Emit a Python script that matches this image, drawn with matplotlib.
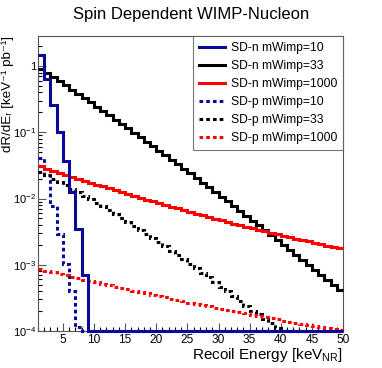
import numpy as np
import matplotlib
matplotlib.use("Agg")
import matplotlib.pyplot as plt
from matplotlib.ticker import FixedLocator, FuncFormatter, LogLocator, NullFormatter

plt.rcParams['font.family'] = ['Liberation Sans', 'DejaVu Sans']
plt.rcParams['mathtext.default'] = 'regular'

# ---- data ----
bin_edges = list(range(1, 51))  # 1 keV bins from 1 to 50 keVnr

sdn_m10 = [1.45, 0.64, 0.26, 0.100, 0.037, 0.0124, 0.0035, 0.00071, 0.00005] + [0.0] * 40

sdn_m33 = [0.912, 0.790, 0.684, 0.592, 0.512, 0.443, 0.382, 0.330, 0.284, 0.245,
           0.211, 0.1814, 0.156, 0.134, 0.115, 0.0986, 0.0845, 0.0724, 0.0619, 0.0530,
           0.0453, 0.0386, 0.0330, 0.0281, 0.0240, 0.0204, 0.0174, 0.01476, 0.01256, 0.01067,
           0.00904, 0.00766, 0.00649, 0.00550, 0.00465, 0.00393, 0.00332, 0.00280, 0.00236, 0.00199,
           0.00167, 0.00141, 0.00119, 0.000995, 0.000836, 0.000701, 0.000587, 0.000491, 0.000411]

sdn_m1000 = [0.0305, 0.02842, 0.02645, 0.02463, 0.02296, 0.02140, 0.01996, 0.01864, 0.01740, 0.01626,
             0.01521, 0.01422, 0.01331, 0.01247, 0.01168, 0.01095, 0.01027, 0.00964, 0.00906, 0.00851,
             0.00800, 0.00752, 0.00708, 0.00667, 0.00628, 0.00592, 0.00559, 0.00527, 0.00498, 0.00470,
             0.00445, 0.00420, 0.00398, 0.00377, 0.00357, 0.00338, 0.00321, 0.00305, 0.00289, 0.00275,
             0.00261, 0.00248, 0.00237, 0.00225, 0.00215, 0.00204, 0.00195, 0.00186, 0.00178]

sdp_m10 = [0.041, 0.023, 0.0077, 0.0029, 0.00102, 0.00040, 0.000114, 0.00003, 0.000005] + [0.0] * 40

sdp_m33 = [0.0251, 0.02246, 0.02006, 0.01788, 0.01591, 0.01413, 0.01252, 0.01107, 0.00978, 0.00862,
           0.00759, 0.00666, 0.00584, 0.00511, 0.00446, 0.00389, 0.00339, 0.00294, 0.00255, 0.00221,
           0.00191, 0.00164, 0.00141, 0.00121, 0.00104, 0.000891, 0.000761, 0.000649, 0.000553, 0.000469,
           0.000398, 0.000337, 0.000285, 0.000240, 0.000202, 0.000180, 0.000150, 0.000130, 0.000110, 0.00008,
           0.00006, 0.000045, 0.000035, 0.000028, 0.000022, 0.000018, 0.000015, 0.000012, 0.00001]

sdp_m1000 = [8.51e-4, 8.08e-4, 7.68e-4, 7.30e-4, 6.94e-4, 6.60e-4, 6.27e-4, 5.97e-4, 5.68e-4, 5.41e-4,
             5.15e-4, 4.91e-4, 4.68e-4, 4.46e-4, 4.25e-4, 4.06e-4, 3.87e-4, 3.70e-4, 3.53e-4, 3.37e-4,
             3.22e-4, 3.08e-4, 2.94e-4, 2.82e-4, 2.69e-4, 2.58e-4, 2.47e-4, 2.36e-4, 2.26e-4, 2.17e-4,
             2.08e-4, 1.99e-4, 1.91e-4, 1.84e-4, 1.76e-4, 1.69e-4, 1.62e-4, 1.56e-4, 1.50e-4, 1.44e-4,
             1.39e-4, 1.33e-4, 1.28e-4, 1.24e-4, 1.19e-4, 1.15e-4, 1.10e-4, 1.06e-4, 1.03e-4]

labels = ["SD-n mWimp=10", "SD-n mWimp=33", "SD-n mWimp=1000",
          "SD-p mWimp=10", "SD-p mWimp=33", "SD-p mWimp=1000"]
series = [sdn_m10, sdn_m33, sdn_m1000, sdp_m10, sdp_m33, sdp_m1000]

y_min, y_max = 1e-4, 2.85
x_min, x_max = 1, 50

# ---- style ----
blue = '#0a0a9a'
colors = [blue, 'black', '#ff0000', blue, 'black', '#ff0000']
dotted = (0, (1.2, 1.0))
styles = ['-', '-', '-', dotted, dotted, dotted]
zorders = [6, 5, 5, 4, 4, 4]

fig = plt.figure(figsize=(3.82, 3.68), dpi=100)
ax = fig.add_axes([38/382, 1-331/368, (343-38)/382, (331-36)/368])

edges = np.array(bin_edges, dtype=float)
handles = []
for vals, c, ls, lab, z in zip(series, colors, styles, labels, zorders):
    v = np.clip(np.array(vals, dtype=float), y_min, None)
    ax.stairs(v, edges, baseline=None, color=c, linestyle=ls, linewidth=2.2,
              zorder=z, clip_on=False)
    h, = ax.plot([], [], color=c, linestyle=ls, linewidth=2.2, label=lab)
    handles.append(h)

ax.set_yscale('log')
ax.set_xlim(x_min, x_max)
ax.set_ylim(y_min, y_max)

frame_c = '#555555'
for s in ax.spines.values():
    s.set_color(frame_c)
    s.set_linewidth(0.8)

ax.xaxis.set_major_locator(FixedLocator([5, 10, 15, 20, 25, 30, 35, 40, 45, 50]))
ax.xaxis.set_minor_locator(FixedLocator(list(range(1, 51))))
ax.yaxis.set_major_locator(LogLocator(base=10, numticks=10))
ax.yaxis.set_minor_locator(LogLocator(base=10, subs=np.arange(2, 10), numticks=20))
ax.yaxis.set_minor_formatter(NullFormatter())

def yfmt(v, pos):
    e = int(round(np.log10(v)))
    if e == 0:
        return '1'
    return r'$10^{%d}$' % e
ax.yaxis.set_major_formatter(FuncFormatter(yfmt))

ax.tick_params(axis='both', which='both', direction='in', top=False, right=False)
ax.tick_params(axis='x', labelsize=8.6)
ax.tick_params(axis='y', labelsize=8.0)
ax.tick_params(axis='both', which='major', length=6, width=0.8)
ax.tick_params(axis='both', which='minor', length=3, width=0.8)
ax.tick_params(axis='x', which='major', pad=2.5)
ax.tick_params(axis='y', which='major', pad=1.2)
ax.tick_params(axis='both', colors=frame_c, labelcolor='black')

leg = ax.legend(handles=handles, loc='upper right', bbox_to_anchor=(1.0, 1.0),
                borderaxespad=0, fancybox=False, frameon=True, fontsize=8.7,
                handlelength=2.1, handletextpad=0.5, labelspacing=0.5,
                borderpad=0.5)
leg.get_frame().set_edgecolor(frame_c)
leg.get_frame().set_linewidth(0.8)
leg.set_zorder(10)

fig.text(0.5, 1-14/368, 'Spin Dependent WIMP-Nucleon', ha='center', va='center', fontsize=12)
fig.text(343/382, 1-359/368, r'Recoil Energy [keV$_{NR}$]', ha='right', va='baseline', fontsize=11)
fig.text(7.8/382, 1-36/368, 'dR/dE\u1d63 [keV\u207b\u00b9 pb\u207b\u00b9]', ha='center', va='top',
         rotation=90, fontsize=9.6)

fig.savefig('out.png', dpi=100)
